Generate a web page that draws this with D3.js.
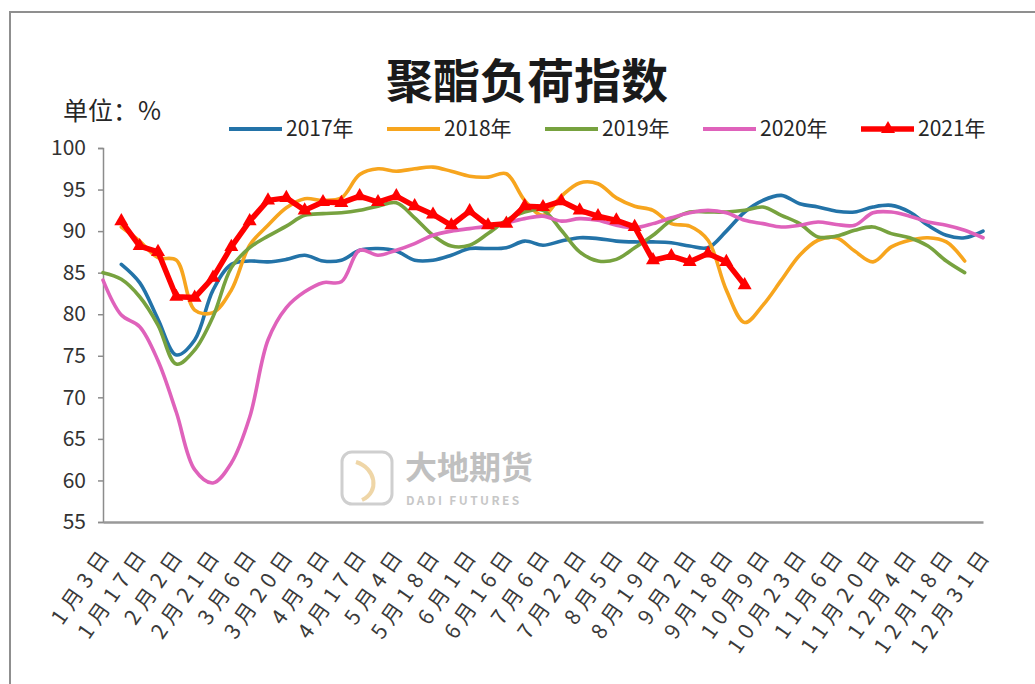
<!DOCTYPE html>
<html><head><meta charset="utf-8">
<script src="https://cdn.jsdelivr.net/npm/d3@7"></script>
<style>body{margin:0;background:#fff}svg{display:block}</style>
</head><body>
<svg id="c" width="1035" height="684"></svg>
<script>
const categories = ["1月3日","1月10日","1月17日","1月24日","2月2日","2月10日","2月21日","2月28日","3月6日","3月13日","3月20日","3月27日","4月3日","4月10日","4月17日","4月25日","5月4日","5月11日","5月18日","5月25日","6月1日","6月8日","6月16日","6月25日","7月6日","7月14日","7月22日","7月29日","8月5日","8月12日","8月19日","8月26日","9月2日","9月10日","9月18日","9月27日","10月9日","10月16日","10月23日","10月30日","11月6日","11月13日","11月20日","11月27日","12月4日","12月11日","12月18日","12月25日","12月31日"];
const tickLabels = ["1月3日","1月17日","2月2日","2月21日","3月6日","3月20日","4月3日","4月17日","5月4日","5月18日","6月1日","6月16日","7月6日","7月22日","8月5日","8月19日","9月2日","9月18日","10月9日","10月23日","11月6日","11月20日","12月4日","12月18日","12月31日"];
const yTicks = [55,60,65,70,75,80,85,90,95,100];
const seriesNames = ["2017年","2018年","2019年","2020年","2021年"];
const s2017 = [null,86.0,83.8,79.4,75.1,76.9,82.9,86.0,86.4,86.3,86.6,87.1,86.4,86.5,87.7,87.9,87.6,86.5,86.5,87.1,87.9,87.9,88.0,88.8,88.3,88.8,89.2,89.1,88.8,88.7,88.7,88.6,88.2,88.0,90.0,92.3,93.7,94.3,93.3,92.9,92.4,92.3,92.9,93.1,92.3,90.7,89.5,89.2,90.0];
const s2018 = [null,90.5,88.8,86.8,86.5,80.5,80.2,82.9,88.3,90.7,92.8,93.9,93.7,94.0,96.8,97.5,97.2,97.5,97.7,97.2,96.6,96.5,96.9,93.7,91.9,94.2,95.8,95.7,94.0,93.0,92.5,90.9,90.6,88.9,82.9,79.0,81.1,84.1,87.1,88.9,89.2,87.6,86.3,88.1,88.9,89.2,88.7,86.4,null];
const s2019 = [85.0,84.2,82.1,78.7,74.0,75.7,79.7,85.6,88.0,89.4,90.6,91.9,92.1,92.2,92.5,93.0,93.4,91.6,89.5,88.2,88.3,89.7,91.3,92.3,92.5,90.1,87.5,86.4,86.6,88.0,89.5,91.3,92.3,92.3,92.3,92.5,92.9,91.9,90.9,89.3,89.4,90.1,90.5,89.7,89.2,88.2,86.4,85.0,null];
const s2020 = [84.1,79.9,78.5,74.4,68.2,61.3,59.7,62.1,67.6,76.9,80.8,82.7,83.8,83.9,87.7,87.1,87.7,88.5,89.5,90.0,90.3,90.6,91.0,91.5,91.8,91.2,91.5,91.3,90.7,90.4,90.9,91.6,92.2,92.5,92.2,91.3,90.9,90.5,90.7,91.1,90.8,90.7,92.2,92.3,91.8,91.1,90.7,90.1,89.2];
const s2021 = [null,91.2,88.2,87.5,82.1,82.0,84.4,88.1,91.2,93.7,94.0,92.5,93.5,93.4,94.2,93.5,94.2,93.0,92.0,90.7,92.4,90.7,90.9,93.0,92.9,93.6,92.5,91.8,91.3,90.5,86.5,87.0,86.3,87.3,86.3,83.5,null,null,null,null,null,null,null,null,null,null,null,null,null];
const colors = ["#2373a8","#f7a51e","#77a23f","#df62bb","#ff0000"];

const allSeries = [s2017,s2018,s2019,s2020,s2021];
const FONT = "'Noto Sans CJK SC','Noto Sans',sans-serif";

const svg = d3.select("#c");
const x = d3.scalePoint().domain(categories).range([103, 983]);
const y = d3.scaleLinear().domain([55, 100]).range([522, 148]);

// frame
svg.append("path").attr("d","M10,684V12H1035").attr("fill","none").attr("stroke","#8f8f8f").attr("stroke-width",2);

// title
svg.append("text").attr("x",527).attr("y",98).attr("text-anchor","middle")
  .attr("font-family",FONT).attr("font-weight","bold").attr("font-size",47).attr("fill","#1a1a1a").text("聚酯负荷指数");
svg.append("text").attr("x",63).attr("y",120).attr("font-family",FONT).attr("font-size",25).attr("fill","#262626").text("单位：%");

// watermark
const wm = svg.append("g").attr("opacity",0.55);
wm.append("rect").attr("x",342).attr("y",452).attr("width",50).attr("height",52).attr("rx",10).attr("fill","none").attr("stroke","#a9a9a9").attr("stroke-width",3);
wm.append("path").attr("d","M356,462 C376,468 380,492 362,500").attr("fill","none").attr("stroke","#e2b560").attr("stroke-width",4);
wm.append("text").attr("x",405).attr("y",479).attr("font-family",FONT).attr("font-weight","bold").attr("font-size",32).attr("fill","#8e8e8e").text("大地期货");
wm.append("text").attr("x",406).attr("y",505).attr("font-family",FONT).attr("font-weight","bold").attr("font-size",12).attr("letter-spacing",2.4).attr("fill","#9a9a9a").text("DADI FUTURES");

// y axis
const ya = svg.append("g").attr("transform","translate(103,0)").call(d3.axisLeft(y).tickValues(yTicks).tickSize(5).tickPadding(12));
ya.select(".domain").attr("stroke","#8c8c8c").attr("stroke-width",1.5);
ya.selectAll(".tick line").attr("stroke","#8c8c8c").attr("stroke-width",1.5);
ya.selectAll(".tick text").attr("font-family",FONT).attr("font-size",21).attr("fill","#333");

// x axis
const xa = svg.append("g").attr("transform","translate(0,522)").call(d3.axisBottom(x).tickValues(tickLabels).tickSize(0).tickSizeOuter(0));
xa.select(".domain").attr("stroke","#999").attr("stroke-width",2.5);
xa.selectAll(".tick text").attr("x",0).attr("y",0).attr("dy",0)
  .attr("transform","translate(10,31) rotate(-55)").attr("text-anchor","end")
  .attr("font-family",FONT).attr("font-size",21).attr("letter-spacing",6).attr("fill","#3a3a3a");

// lines
const smooth = d3.line().defined(d => d.v != null).x(d => x(d.c)).y(d => y(d.v)).curve(d3.curveCatmullRom.alpha(0.5));
const straight = d3.line().defined(d => d.v != null).x(d => x(d.c)).y(d => y(d.v));
allSeries.forEach((s, k) => {
  const pts = s.map((v, i) => ({c: categories[i], v}));
  svg.append("path").attr("d", (k === 4 ? straight : smooth)(pts)).attr("fill","none")
    .attr("stroke", colors[k]).attr("stroke-width", k === 4 ? 5.5 : 3.6).attr("stroke-linejoin","round").attr("stroke-linecap","round");
  if (k === 4) {
    svg.append("g").selectAll("path").data(pts.filter(d => d.v != null)).join("path")
      .attr("transform", d => `translate(${x(d.c)},${y(d.v)})`)
      .attr("d", d3.symbol(d3.symbolTriangle, 85)).attr("fill", colors[k]);
  }
});

// legend
const lg = svg.append("g").attr("transform","translate(229,129)");
seriesNames.forEach((n, k) => {
  const g = lg.append("g").attr("transform",`translate(${k*158},0)`);
  g.append("line").attr("x1",0).attr("x2",53).attr("stroke",colors[k]).attr("stroke-width",k===4?5.5:4);
  if (k === 4) g.append("path").attr("transform","translate(27,0)").attr("d", d3.symbol(d3.symbolTriangle, 85)).attr("fill",colors[k]);
  g.append("text").attr("x",57).attr("y",7).attr("font-family",FONT).attr("font-size",21).attr("fill","#262626").text(n);
});
</script>
</body></html>
